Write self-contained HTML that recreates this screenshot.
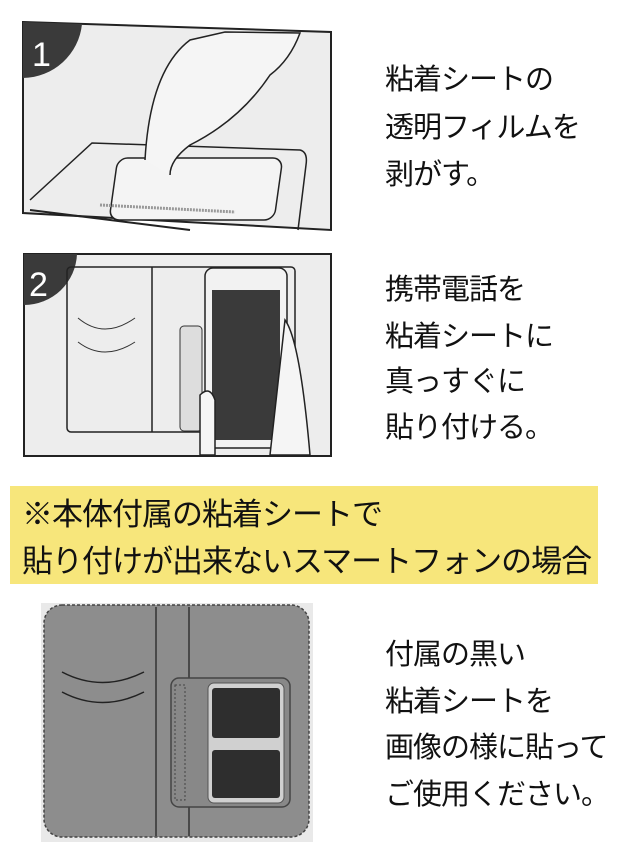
<!DOCTYPE html>
<html><head><meta charset="utf-8">
<style>
html,body{margin:0;padding:0;background:#fff;}
body{width:640px;height:856px;position:relative;overflow:hidden;font-family:"Liberation Sans","Noto Sans CJK JP",sans-serif;color:#111;}
.t{position:absolute;left:385px;font-size:29px;line-height:30px;white-space:nowrap;letter-spacing:-1px;}
.y{position:absolute;left:10px;top:486px;width:588px;height:98px;background:#f7e67b;}
.yt{position:absolute;left:22px;font-size:31px;white-space:nowrap;letter-spacing:-1px;line-height:32px;}
svg{position:absolute;left:0;top:0;}
</style></head><body>
<svg width="640" height="856" viewBox="0 0 640 856">
<!-- panel 1 -->
<polygon points="23,22 331,32 331,230 23,213" fill="#ededed" stroke="#222" stroke-width="2"/>
<path d="M23,22 L82,24 A60,60 0 0 1 23,78 Z" fill="#3a3a3a"/>
<text x="32" y="66" font-size="34" fill="#fff" font-family="Liberation Sans">1</text>
<path d="M30,200 L92,143 L300,150 Q308,152 306,165 L298,230" fill="none" stroke="#222" stroke-width="1.5"/>
<path d="M30,210 L190,230" stroke="#222" stroke-width="2"/>
<rect x="115" y="158" width="165" height="62" rx="10" fill="#f4f4f4" stroke="#222" stroke-width="1.5" transform="skewX(-8) translate(25,0)"/>
<line x1="100" y1="205" x2="235" y2="212" stroke="#999" stroke-width="3" stroke-dasharray="2,1"/>
<path d="M145,160 Q150,70 190,40 L225,32 L300,33 Q290,60 270,75 Q240,120 190,145 Q170,160 170,175" fill="#f5f5f5" stroke="#222" stroke-width="1.5"/>
<!-- panel 2 -->
<rect x="24" y="254" width="307" height="202" fill="#ededed" stroke="#222" stroke-width="2"/>
<path d="M24,254 L77,254 A53,53 0 0 1 24,305 Z" fill="#3a3a3a"/>
<text x="29" y="296" font-size="34" fill="#fff" font-family="Liberation Sans">2</text>
<rect x="67" y="267" width="228" height="165" rx="4" fill="none" stroke="#222" stroke-width="1.5"/>
<line x1="152" y1="267" x2="152" y2="432" stroke="#222" stroke-width="1.5"/>
<path d="M78,318 Q104,340 135,318 M78,342 Q104,362 135,342" fill="none" stroke="#333" stroke-width="1"/>
<rect x="180" y="326" width="22" height="105" rx="4" fill="#ddd" stroke="#333"/>
<rect x="205" y="268" width="82" height="180" rx="8" fill="#f2f2f2" stroke="#222" stroke-width="1.5"/>
<rect x="212" y="290" width="68" height="150" fill="#3a3a3a"/>
<path d="M200,455 L200,395 Q210,385 215,400 L215,455 Z M270,455 L285,320 Q300,340 310,455 Z" fill="#f5f5f5" stroke="#222" stroke-width="1.5"/>
<!-- case -->
<rect x="41" y="603" width="272" height="239" fill="#e9e9e9"/>
<rect x="44" y="605" width="265" height="232" rx="18" fill="#8d8d8d" stroke="#444" stroke-width="1.5" stroke-dasharray="3,2"/>
<line x1="156" y1="607" x2="156" y2="836" stroke="#333" stroke-width="1.5"/>
<line x1="189" y1="607" x2="189" y2="836" stroke="#333" stroke-width="1.5"/>
<path d="M62,717 Q102,738 144,717 M62,737 Q102,758 144,737" fill="none" stroke="#222" stroke-width="1.5" transform="translate(0,-45)"/>
<rect x="171" y="678" width="119" height="129" rx="8" fill="#888" stroke="#444" stroke-width="1.5"/>
<rect x="175" y="685" width="10" height="115" fill="none" stroke="#444" stroke-dasharray="2,2"/>
<rect x="208" y="683" width="76" height="120" rx="6" fill="#d0d0d0" stroke="#555"/>
<rect x="212" y="688" width="68" height="50" rx="3" fill="#2e2e2e"/>
<rect x="212" y="750" width="68" height="48" rx="3" fill="#2e2e2e"/>
</svg>
<div class="t" style="top:65px">粘着シートの</div>
<div class="t" style="top:113px">透明フィルムを</div>
<div class="t" style="top:160px">剥がす。</div>
<div class="t" style="top:275px">携帯電話を</div>
<div class="t" style="top:322px">粘着シートに</div>
<div class="t" style="top:367px">真っすぐに</div>
<div class="t" style="top:413px">貼り付ける。</div>
<div class="y"></div>
<div class="yt" style="top:499px">※本体付属の粘着シートで</div>
<div class="yt" style="top:546px">貼り付けが出来ないスマートフォンの場合</div>
<div class="t" style="top:640px">付属の黒い</div>
<div class="t" style="top:687px">粘着シートを</div>
<div class="t" style="top:733px">画像の様に貼って</div>
<div class="t" style="top:780px">ご使用ください。</div>
</body></html>
